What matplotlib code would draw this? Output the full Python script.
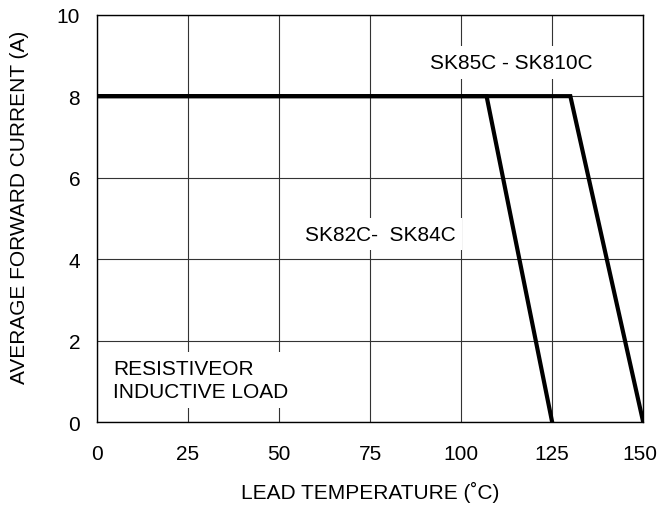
import matplotlib
matplotlib.use("Agg")
import matplotlib.pyplot as plt
import matplotlib.transforms as mtransforms

plt.rcParams['font.family'] = ['Liberation Sans', 'DejaVu Sans']

# Data
low_x = [0, 107, 125]
low_y = [8, 8, 0]
high_x = [0, 130, 150]
high_y = [8, 8, 0]
xticks = [0, 25, 50, 75, 100, 125, 150]
yticks = [0, 2, 4, 6, 8, 10]

FS = 15

fig = plt.figure(figsize=(6.59, 5.06), dpi=100)
ax = fig.add_axes([0.147, 0.164, 0.829, 0.805])

ax.plot(low_x, low_y, color='black', lw=3, solid_joinstyle='miter', zorder=4)
ax.plot(high_x, high_y, color='black', lw=3, solid_joinstyle='miter', zorder=4)

ax.set_xlim(0, 150)
ax.set_ylim(0, 10)
ax.set_xticks(xticks)
ax.set_yticks(yticks)
ax.tick_params(axis='both', length=0, labelsize=FS)
ax.tick_params(axis='y', pad=12)
ax.tick_params(axis='x', pad=15.5)
ax.grid(True, color='#333333', lw=0.8)
ax.set_axisbelow(True)
for s in ax.spines.values():
    s.set_color('black')
    s.set_linewidth(1.0)
    s.set_zorder(5)

ax.set_xlabel('LEAD TEMPERATURE (˚C)', fontsize=FS, labelpad=13)
ax.set_ylabel('AVERAGE FORWARD CURRENT (A)', fontsize=FS, labelpad=20, y=0.53)

# nudge the last x tick label slightly left as in the reference
fig.canvas.draw()
lbl = ax.get_xticklabels()[-1]
lbl.set_transform(lbl.get_transform() + mtransforms.ScaledTranslation(-3/100, 0, fig.dpi_scale_trans))

box = dict(facecolor='white', edgecolor='none', pad=5)
ax.text(91.5, 8.70, 'SK85C - SK810C', fontsize=FS, va='baseline', ha='left', bbox=box, zorder=3)
ax.text(57.1, 4.48, 'SK82C-  SK84C', fontsize=FS, va='baseline', ha='left', bbox=box, zorder=3)
ax.text(4.4, 0.61, 'RESISTIVEOR\nINDUCTIVE LOAD', fontsize=FS, va='baseline', ha='left',
        linespacing=1.3, bbox=box, zorder=3)

fig.savefig('out.png', dpi=100)
